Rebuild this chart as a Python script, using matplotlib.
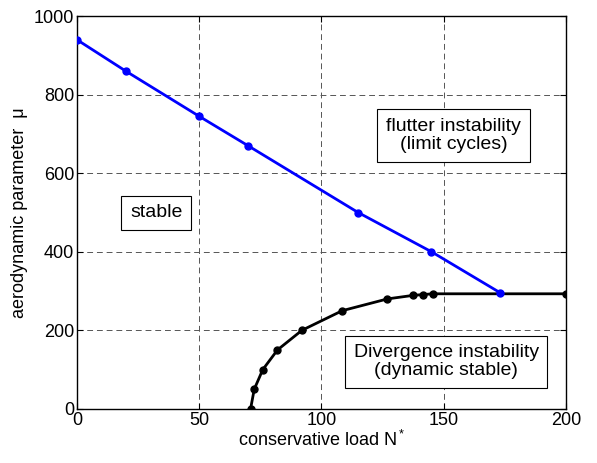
import numpy as np
import matplotlib
matplotlib.use("Agg")
import matplotlib.pyplot as plt

plt.rcParams['font.family'] = ['Liberation Sans', 'DejaVu Sans']
plt.rcParams['mathtext.fontset'] = 'custom'
plt.rcParams['mathtext.rm'] = 'Liberation Sans'
plt.rcParams['mathtext.it'] = 'Liberation Sans'

# flutter boundary (blue)
flutter_N = [0, 20, 50, 70, 115, 145, 173]
flutter_mu = [940, 860, 745, 670, 500, 400, 296]

# divergence boundary (black)
div_N = [71, 72.5, 76, 82, 92, 108.5, 127, 137.5, 141.5, 145.5, 200]
div_mu = [0, 50, 100, 150, 200, 250, 280, 289, 291, 293, 293]

fig = plt.figure(figsize=(5.97, 4.63), dpi=100)
ax = fig.add_axes([0.129, 0.117, 0.819, 0.848])

ax.plot(div_N, div_mu, color='black', lw=2, marker='o', ms=5, zorder=3)
ax.plot(flutter_N, flutter_mu, color='blue', lw=2, marker='o', ms=5, zorder=4)

ax.set_xlim(0, 200)
ax.set_ylim(0, 1000)
ax.set_xticks([0, 50, 100, 150, 200])
ax.set_yticks([0, 200, 400, 600, 800, 1000])
ax.tick_params(direction='in', top=True, right=True, labelsize=13, length=4, pad=2)
ax.grid(True, color='#555555', linestyle=(0, (6, 4)), lw=0.7)
for s in ax.spines.values():
    s.set_linewidth(1.0)

ax.set_xlabel('conservative load N$^*$', fontsize=13, labelpad=1)
ax.set_ylabel('aerodynamic parameter  \u03bc', fontsize=13, labelpad=4)

box = dict(boxstyle='square,pad=0.45', fc='white', ec='black', lw=0.8)
ax.text(32.4, 499, 'stable', fontsize=14, ha='center', va='center', bbox=box, zorder=5)
ax.text(154, 696, 'flutter instability\n(limit cycles)', fontsize=14, ha='center',
        va='center', bbox=box, linespacing=1.05, zorder=5)
ax.text(151, 120, 'Divergence instability\n(dynamic stable)', fontsize=14, ha='center',
        va='center', bbox=box, linespacing=1.05, zorder=5)

fig.savefig('out.png', dpi=100)
